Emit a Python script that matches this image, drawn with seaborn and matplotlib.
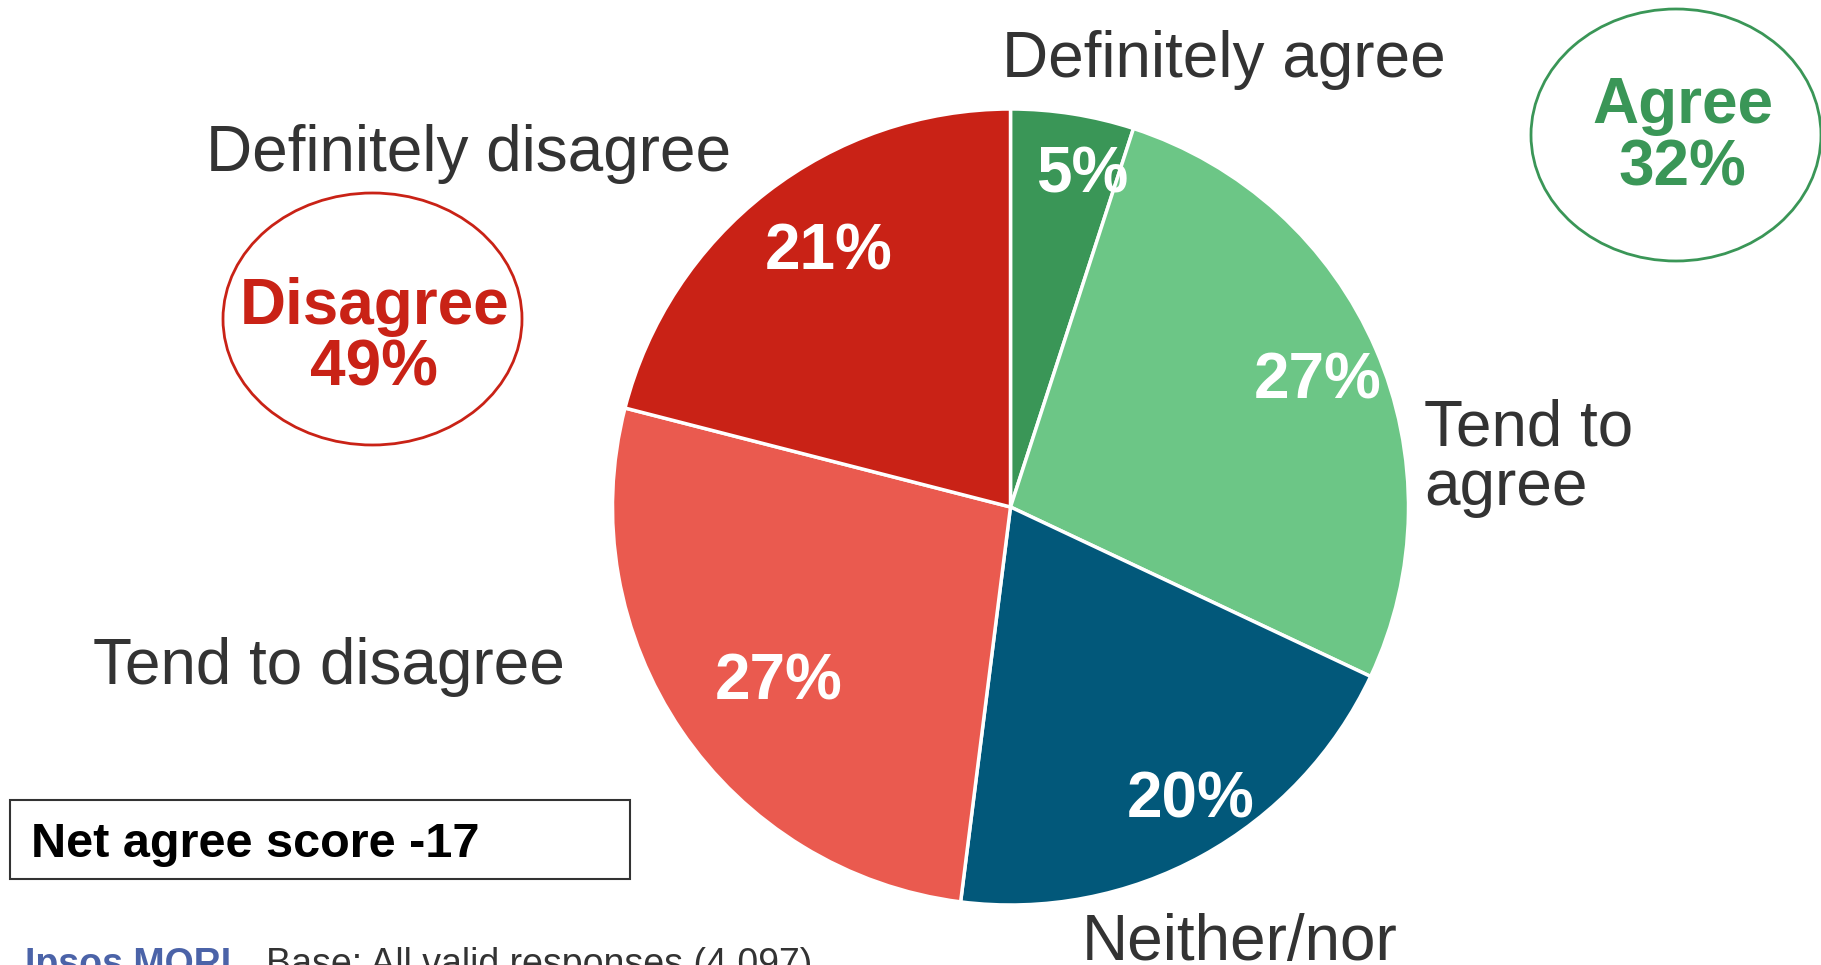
import numpy as np
import matplotlib
matplotlib.use("Agg")
import matplotlib.pyplot as plt
from matplotlib.patches import Ellipse, Rectangle
import seaborn as sns

# Survey answer shares (percent), clockwise from 12 o'clock
categories = ["Definitely agree", "Tend to agree", "Neither/nor",
              "Tend to disagree", "Definitely disagree"]
shares = [5, 27, 20, 27, 21]
slice_colors = ["#3A9657", "#6CC686", "#02587A", "#EA5A4F", "#C92216"]

agree_total = 32
disagree_total = 49
net_agree = -17
base_note = "Base: All valid responses (4,097)"
brand = "Ipsos MORI"

sns.set_theme(style="white")
plt.rcParams["font.family"] = ["Liberation Sans", "DejaVu Sans"]

W, H = 1821, 965
fig = plt.figure(figsize=(W / 100, H / 100), dpi=100)
ax = fig.add_axes([0, 0, 1, 1])

def Y(y):
    # pixel row measured from the top -> data y
    return H - y

cx, cy, R = 1010.5, Y(507), 398
ax.pie(shares, colors=slice_colors, startangle=90, counterclock=False,
       center=(cx, cy), radius=R,
       wedgeprops=dict(edgecolor="white", linewidth=2.5))
ax.set_xlim(0, W)
ax.set_ylim(0, H)
ax.set_aspect("equal")
ax.axis("off")

# Percentage labels inside the wedges: radial fraction and angular nudge
radial = [0.87, 0.84, 0.85, 0.72, 0.80]
nudge = [3.0, 0.0, -3.3, -1.9, 3.0]
cum = np.cumsum([0] + shares)
half_cap = 24
for i, v in enumerate(shares):
    mid = (cum[i] + v / 2) / 100 * 360 + nudge[i]
    ang = np.deg2rad(90 - mid)
    x = cx + radial[i] * R * np.cos(ang)
    y = cy + radial[i] * R * np.sin(ang)
    ax.text(x, y - half_cap, f"{v}%", color="white", fontsize=46,
            fontweight="bold", ha="center", va="baseline")

label_kw = dict(color="#333333", fontsize=46)
ax.text(1224, Y(77), categories[0], ha="center", va="baseline", **label_kw)
ax.text(1424, Y(445), "Tend to", ha="left", va="baseline", **label_kw)
ax.text(1424, Y(505), "agree", ha="left", va="baseline", **label_kw)
ax.text(1082, Y(960), categories[2], ha="left", va="baseline", **label_kw)
ax.text(93, Y(684), categories[3], ha="left", va="baseline", **label_kw)
ax.text(469, Y(171), categories[4], ha="center", va="baseline", **label_kw)

# Summary bubbles
ax.add_patch(Ellipse((1676, Y(135)), 290, 252, fill=False,
                     edgecolor="#3A9657", linewidth=2))
ax.text(1683, Y(123), "Agree", color="#3A9657", fontsize=46,
        fontweight="bold", ha="center", va="baseline")
ax.text(1682, Y(185), f"{agree_total}%", color="#3A9657", fontsize=46,
        fontweight="bold", ha="center", va="baseline")

ax.add_patch(Ellipse((372.5, Y(319)), 299, 252, fill=False,
                     edgecolor="#C92216", linewidth=2))
ax.text(375, Y(324), "Disagree", color="#C92216", fontsize=46,
        fontweight="bold", ha="center", va="baseline")
ax.text(374, Y(385), f"{disagree_total}%", color="#C92216", fontsize=46,
        fontweight="bold", ha="center", va="baseline")

# Net score box
ax.add_patch(Rectangle((10, Y(879)), 620, 79, fill=False,
                       edgecolor="#333333", linewidth=1.5))
ax.text(31, Y(857), f"Net agree score {net_agree}", color="black",
        fontsize=35, fontweight="bold", ha="left", va="baseline")

# Footer
ax.text(25, Y(975), brand, color="#4B63A8", fontsize=27,
        fontweight="bold", ha="left", va="baseline")
ax.text(266, Y(975), base_note, color="#333333", fontsize=27,
        ha="left", va="baseline")

fig.savefig("out.png", dpi=100, facecolor="white")
